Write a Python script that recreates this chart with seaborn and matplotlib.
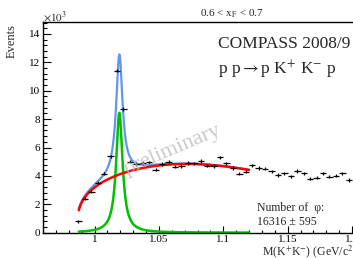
import numpy as np
import pandas as pd
import matplotlib
matplotlib.use("Agg")
import matplotlib.pyplot as plt
from matplotlib.ticker import MultipleLocator
import seaborn as sns

# K+K- invariant mass, 5 MeV bins (events in units of 10^3)
mass = [0.9875, 0.9925, 0.9975, 1.0025, 1.0075, 1.0125, 1.0175, 1.0225, 1.0275, 1.0325,
        1.0375, 1.0425, 1.0475, 1.0525, 1.0575, 1.0625, 1.0675, 1.0725, 1.0775, 1.0825,
        1.0875, 1.0925, 1.0975, 1.1025, 1.1075, 1.1125, 1.1175, 1.1225, 1.1275, 1.1325,
        1.1375, 1.1425, 1.1475, 1.1525, 1.1575, 1.1625, 1.1675, 1.1725, 1.1775, 1.1825,
        1.1875, 1.1925, 1.1975]
events = [0.80, 2.40, 2.90, 3.52, 4.15, 5.38, 11.42, 8.70, 5.00, 4.85,
          4.90, 4.95, 4.45, 4.85, 5.00, 4.65, 4.70, 4.92, 4.88, 5.05,
          4.72, 4.70, 5.30, 4.88, 4.55, 4.15, 4.30, 4.75, 4.55, 4.52,
          4.32, 4.05, 4.18, 3.96, 4.34, 4.18, 3.80, 3.88, 4.18, 3.95,
          4.02, 4.18, 3.72]
event_err = [0.12] * len(events)
bin_half = 0.0025

# fit result: phi Breit-Wigner + threshold background
fit_lo, fit_hi = 0.9878, 1.12
bkg_thr, bkg_norm, bkg_pow, bkg_lin, bkg_quad = 0.9865, 11.57, 0.3, -0.43, 23.3
phi_mass, phi_width, phi_peak = 1.0193, 0.006, 8.45

m = np.linspace(fit_lo, fit_hi, 600)
q = m - bkg_thr
bkg = bkg_norm * q**bkg_pow * np.exp(-bkg_lin * q - bkg_quad * q**2)
sig = phi_peak * (phi_width / 2)**2 / ((m - phi_mass)**2 + (phi_width / 2)**2)
curves = pd.DataFrame({"m": m, "bkg": bkg, "sig": sig, "tot": bkg + sig})

sns.set_theme(style="ticks")
plt.rcParams["font.family"] = ["Liberation Serif", "DejaVu Serif"]
plt.rcParams["mathtext.fontset"] = "stix"

fig = plt.figure(figsize=(3.53, 2.58), dpi=100)
ax = fig.add_axes([43 / 353, 1 - 232.7 / 258, 317 / 353, 210.7 / 258])

sns.lineplot(data=curves, x="m", y="tot", color="#6495ed", lw=1.6, ax=ax)
sns.lineplot(data=curves, x="m", y="sig", color="#00c000", lw=1.8, ax=ax)
sns.lineplot(data=curves, x="m", y="bkg", color="#ff0000", lw=1.8, ax=ax)
ax.errorbar(mass, events, xerr=bin_half, yerr=event_err, fmt="none",
            ecolor="black", elinewidth=0.9, capsize=0)

ax.set_xlim(0.96, 1.2062)
ax.set_ylim(0, 14.84)
ax.set_xlabel("")
ax.set_ylabel("")
ax.xaxis.set_minor_locator(MultipleLocator(0.01))
ax.yaxis.set_major_locator(MultipleLocator(2))
ax.yaxis.set_minor_locator(MultipleLocator(0.4))
ax.set_xticks([1.0, 1.05, 1.1, 1.15, 1.2])
ax.set_xticklabels(["1", "1.05", "1.1", "1.15", "1.2"])
ax.tick_params(which="both", direction="in", width=0.8, labelsize=8, colors="black")
ax.tick_params(axis="y", which="major", length=6, pad=2)
ax.tick_params(axis="y", which="minor", length=3)
ax.tick_params(axis="x", which="major", length=5, pad=1.5)
ax.tick_params(axis="x", which="minor", length=2.5)
for s in ax.spines.values():
    s.set_linewidth(1.0)
    s.set_color("black")

ax.text(1.061, 5.8, "preliminary", rotation=23, fontsize=16, color="#bcbcbc",
        alpha=0.8, ha="center", va="center")

fig.text(12 / 353, 1 - 24 / 258, "Events", rotation=90, ha="center", va="top", fontsize=9)
fig.text(43 / 353, 1 - 17 / 258, r"$\times10^{3}$", ha="left", va="center", fontsize=8)
fig.text(232 / 353, 1 - 14 / 258, r"0.6 < x$_{\rm F}$ < 0.7", ha="center", va="center", fontsize=8)
fig.text(218 / 353, 1 - 44 / 258, "COMPASS 2008/9", ha="left", va="center", fontsize=12.5)
fig.text(218 / 353, 1 - 70 / 258, r"p p$\rightarrow$p K$^{+}$ K$^{-}$ p", ha="left",
         va="center", fontsize=12.5)
fig.text(257 / 353, 1 - 208 / 258, "Number of  \u03c6:", ha="left", va="center", fontsize=8.5)
fig.text(257 / 353, 1 - 222 / 258, "16316 \u00b1 595", ha="left", va="center", fontsize=8.5)
fig.text(262 / 353, 1 - 252 / 258, r"M(K$^{+}$K$^{-}$) (GeV/c$^{2}$)", ha="left",
         va="center", fontsize=8.5)

fig.savefig("out.png", dpi=100)
